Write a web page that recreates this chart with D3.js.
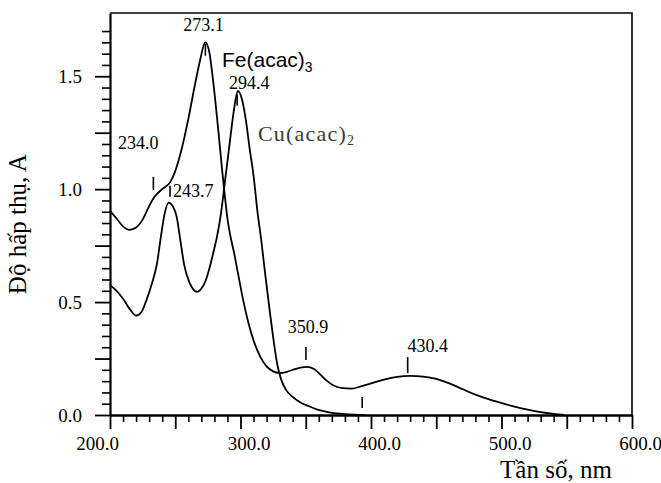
<!DOCTYPE html>
<html>
<head>
<meta charset="utf-8">
<script src="https://cdn.jsdelivr.net/npm/d3@7"></script>
<style>
  body { margin: 0; background: #fff; }
  svg { display: block; }
</style>
</head>
<body>
<div id="chart"></div>
<script>
const feWavelength = [200, 205, 210, 215, 220, 225, 230, 234, 240, 246, 250, 255, 260, 265, 269, 273, 276, 279, 283, 286, 288, 290, 292, 295, 298, 302, 306, 310, 315, 320, 325, 330, 335, 340, 346, 351, 356, 361, 366, 371, 377, 385, 393, 400, 410, 420, 430, 440, 450, 460, 470, 480, 490, 500, 510, 520, 530, 540, 548];
const feAbsorbance = [0.905, 0.87, 0.835, 0.82, 0.83, 0.865, 0.925, 0.965, 1.0, 1.03, 1.08, 1.18, 1.31, 1.46, 1.57, 1.65, 1.61, 1.48, 1.26, 1.08, 0.97, 0.87, 0.8, 0.72, 0.63, 0.51, 0.41, 0.33, 0.26, 0.215, 0.193, 0.186, 0.19, 0.2, 0.21, 0.213, 0.205, 0.18, 0.152, 0.132, 0.12, 0.117, 0.128, 0.14, 0.157, 0.169, 0.173, 0.17, 0.16, 0.14, 0.115, 0.09, 0.07, 0.053, 0.037, 0.024, 0.013, 0.005, 0];

const cuWavelength = [200, 205, 210, 215, 220, 224, 228, 232, 236, 239, 242, 245, 248, 251, 254, 257, 261, 264, 267, 270, 273, 276, 279, 282, 285, 288, 291, 294, 296, 298, 301, 304, 307, 310, 313, 316, 319, 322, 325, 328, 331, 335, 340, 346, 352, 359, 368, 380, 395];
const cuAbsorbance = [0.575, 0.55, 0.515, 0.47, 0.44, 0.455, 0.51, 0.58, 0.67, 0.79, 0.895, 0.94, 0.925, 0.88, 0.77, 0.66, 0.585, 0.555, 0.545, 0.56, 0.59, 0.645, 0.715, 0.79, 0.89, 1.03, 1.17, 1.31, 1.39, 1.435, 1.40, 1.31, 1.18, 1.06, 0.90, 0.77, 0.62, 0.48, 0.345, 0.23, 0.16, 0.11, 0.08, 0.055, 0.04, 0.024, 0.012, 0.004, 0];

const xTickLabels = [200, 300, 400, 500, 600];
const yTickLabels = [0, 0.5, 1.0, 1.5];

const peakWavelengths = [273.1, 294.4, 234.0, 243.7, 350.9, 430.4, 394.0];
const peakLabels = ['273.1', '294.4', '234.0', '243.7', '350.9', '430.4', ''];
const peakSeries = ['fe', 'cu', 'fe', 'cu', 'fe', 'fe', 'cu'];

const width = 661;
const height = 483;
const margin = { top: 13, right: 29, bottom: 68, left: 110 };

const svg = d3.select('#chart')
  .append('svg')
  .attr('width', width)
  .attr('height', height);

const x = d3.scaleLinear()
  .domain([200, 600])
  .range([margin.left, width - margin.right]);

const y = d3.scaleLinear()
  .domain([0, 1.78])
  .range([height - margin.bottom, margin.top]);

const serif = '"Liberation Serif", "Times New Roman", serif';
const sans = '"Liberation Sans", Arial, sans-serif';

// frame top + right
svg.append('path')
  .attr('d', `M${x(200)},${y(1.78)}H${x(600)}V${y(0)}`)
  .attr('fill', 'none')
  .attr('stroke', '#000')
  .attr('stroke-width', 1.6);

// y axis: minor, then major with labels
const yMinor = d3.range(0, 1.71, 0.05).filter((v) => Math.abs(v / 0.25 - Math.round(v / 0.25)) > 0.01);
const yMajor = d3.range(0, 1.51, 0.25);

svg.append('g')
  .attr('transform', `translate(${margin.left},0)`)
  .call(d3.axisLeft(y).tickValues(yMinor).tickSize(8).tickSizeOuter(0).tickFormat(''))
  .call((g) => g.select('.domain').remove())
  .selectAll('line').attr('stroke-width', 1.6);

const yAxis = svg.append('g')
  .attr('transform', `translate(${margin.left},0)`)
  .call(d3.axisLeft(y)
    .tickValues(yMajor)
    .tickSize(15)
    .tickSizeOuter(0)
    .tickPadding(13)
    .tickFormat((d) => yTickLabels.some((v) => Math.abs(v - d) < 1e-6) ? d3.format('.1f')(d) : ''));
yAxis.select('.domain').attr('stroke-width', 2.2);
yAxis.selectAll('line').attr('stroke-width', 1.8);
yAxis.selectAll('text')
  .attr('font-family', serif)
  .attr('font-size', 19)
  .attr('fill', '#000');

// x axis
const xMinor = d3.range(200, 601, 10).filter((v) => v % 50 !== 0);
const xMajor = d3.range(200, 601, 50);

svg.append('g')
  .attr('transform', `translate(0,${y(0)})`)
  .call(d3.axisBottom(x).tickValues(xMinor).tickSize(7).tickSizeOuter(0).tickFormat(''))
  .call((g) => g.select('.domain').remove())
  .selectAll('line').attr('stroke-width', 1.6);

const xAxis = svg.append('g')
  .attr('transform', `translate(0,${y(0)})`)
  .call(d3.axisBottom(x)
    .tickValues(xMajor)
    .tickSize(14)
    .tickSizeOuter(0)
    .tickPadding(8)
    .tickFormat((d) => xTickLabels.includes(d) ? d3.format('.1f')(d) : ''));
xAxis.select('.domain').attr('stroke-width', 2.4);
xAxis.selectAll('line').attr('stroke-width', 1.8);
xAxis.selectAll('text')
  .attr('font-family', serif)
  .attr('font-size', 19)
  .attr('fill', '#000')
  .attr('dx', (d) => d === 200 ? -13 : 8);

// curves
const line = d3.line()
  .x((d) => x(d[0]))
  .y((d) => y(d[1]))
  .curve(d3.curveMonotoneX);

const feData = d3.zip(feWavelength, feAbsorbance);
const cuData = d3.zip(cuWavelength, cuAbsorbance);

[feData, cuData].forEach((data) => {
  svg.append('path')
    .datum(data)
    .attr('d', line)
    .attr('fill', 'none')
    .attr('stroke', '#000')
    .attr('stroke-width', 1.8)
    .attr('stroke-linejoin', 'round');
});

const valueAt = (wls, abs, wl) => {
  const i = Math.max(1, Math.min(wls.length - 1, d3.bisectLeft(wls, wl)));
  const t = (wl - wls[i - 1]) / (wls[i] - wls[i - 1]);
  return abs[i - 1] + Math.max(0, Math.min(1, t)) * (abs[i] - abs[i - 1]);
};

// peak markers: tick dx, tick top/bottom from curve, label offset from tick
const markerLayout = [
  { dx: 0, t0: 1, t1: 13, lx: -2, ly: -12, anchor: 'middle' },
  { dx: 4, t0: 1, t1: 12, lx: 12, ly: -5, anchor: 'middle' },
  { dx: -1, t0: -22, t1: -9, lx: -15, ly: -50, anchor: 'middle' },
  { dx: 3, t0: -18, t1: -7, lx: 3, ly: -7, anchor: 'start' },
  { dx: -1, t0: -20, t1: -7, lx: 2, ly: -34, anchor: 'middle' },
  { dx: -3, t0: -19, t1: -3, lx: 20, ly: -24, anchor: 'middle' },
  { dx: -1, t0: -18, t1: -7, lx: 0, ly: 0, anchor: 'middle' }
];

const markers = svg.append('g');
peakWavelengths.forEach((wl, i) => {
  const lay = markerLayout[i];
  const tx = x(wl) + lay.dx;
  const w = x.invert(tx);
  const a = peakSeries[i] === 'fe'
    ? valueAt(feWavelength, feAbsorbance, w)
    : valueAt(cuWavelength, cuAbsorbance, w);
  const cy = y(a);
  markers.append('line')
    .attr('x1', tx).attr('x2', tx)
    .attr('y1', cy + lay.t0).attr('y2', cy + lay.t1)
    .attr('stroke', '#000')
    .attr('stroke-width', 1.6);
  if (peakLabels[i]) {
    markers.append('text')
      .attr('x', tx + lay.lx)
      .attr('y', cy + lay.ly)
      .attr('text-anchor', lay.anchor)
      .attr('font-family', serif)
      .attr('font-size', 18)
      .text(peakLabels[i]);
  }
});

// series names
const feLabel = svg.append('text')
  .attr('x', 222)
  .attr('y', 67)
  .attr('font-family', sans)
  .attr('font-size', 21)
  .attr('fill', '#000');
feLabel.append('tspan').text('Fe(acac)');
feLabel.append('tspan').attr('dy', 5).attr('font-size', 14).text('3');

const cuLabel = svg.append('text')
  .attr('x', 258)
  .attr('y', 141)
  .attr('font-family', serif)
  .attr('font-size', 22)
  .attr('letter-spacing', 1.2)
  .attr('fill', '#3a3a3a');
cuLabel.append('tspan').text('Cu(acac)');
cuLabel.append('tspan').attr('dy', 4).attr('font-size', 14).text('2');

// axis titles
svg.append('text')
  .attr('transform', 'translate(26,224) rotate(-90)')
  .attr('text-anchor', 'middle')
  .attr('font-family', serif)
  .attr('font-size', 25)
  .attr('fill', '#000')
  .text('Độ hấp thụ, A');

svg.append('text')
  .attr('x', 556)
  .attr('y', 478)
  .attr('text-anchor', 'middle')
  .attr('font-family', serif)
  .attr('font-size', 25)
  .attr('fill', '#000')
  .text('Tần số, nm');
</script>
</body>
</html>
